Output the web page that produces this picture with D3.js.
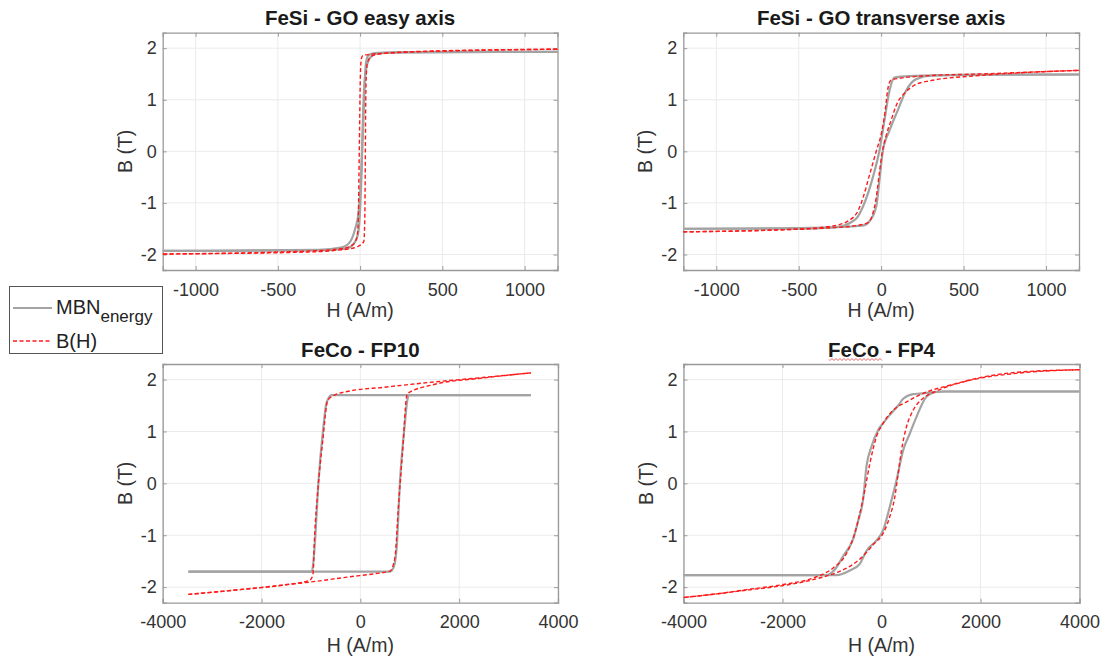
<!DOCTYPE html>
<html><head><meta charset="utf-8">
<script src="https://cdn.jsdelivr.net/npm/d3@7"></script>
<style>body{margin:0;background:#fff}svg{display:block;font-family:"Liberation Sans",Arial,sans-serif}</style>
</head><body>
<svg id="c" width="1104" height="661"></svg>
<script>
// ---------- data (H in A/m, B in T) ----------
const titles = ["FeSi - GO easy axis", "FeSi - GO transverse axis", "FeCo - FP10", "FeCo - FP4"];
const xTicksSmall = [-1000, -500, 0, 500, 1000];
const xTicksLarge = [-4000, -2000, 0, 2000, 4000];
const yTicks = [-2, -1, 0, 1, 2];
const legendLabels = ["MBN", "energy", "B(H)"];

// FeSi easy axis
const easyGrayDesc = [[1200,1.93],[400,1.925],[150,1.915],[80,1.9],[50,1.86],[35,1.7],[28,1.3],[20,0.6],[12,0],[4,-0.6],[-10,-1.2],[-30,-1.5],[-60,-1.75],[-110,-1.86],[-250,-1.91],[-1200,-1.93]];
const easyGrayAsc = [[-1200,-1.93],[-250,-1.92],[-80,-1.88],[-30,-1.75],[-10,-1.55],[2,-1.0],[10,-0.3],[16,0.5],[24,1.2],[40,1.65],[65,1.83],[105,1.9],[250,1.92],[1200,1.93]];
const easyRedDesc = [[1200,1.98],[600,1.95],[200,1.91],[60,1.88],[18,1.86],[8,1.8],[2,1.5],[-3,0.5],[-7,-0.5],[-11,-1.3],[-18,-1.65],[-40,-1.8],[-100,-1.88],[-300,-1.93],[-1200,-1.99]];
const easyRedAsc = [[-1200,-1.99],[-300,-1.95],[-120,-1.91],[-50,-1.88],[-10,-1.84],[22,-1.75],[28,-1.4],[31,-0.5],[33,0.5],[36,1.3],[43,1.7],[70,1.85],[150,1.9],[400,1.94],[1200,1.98]];

// FeSi transverse axis
const transGrayDesc = [[1200,1.49],[500,1.48],[250,1.47],[120,1.45],[80,1.43],[50,1.17],[20,0.6],[-10,0.02],[-50,-0.5],[-110,-1.07],[-140,-1.26],[-190,-1.39],[-270,-1.47],[-510,-1.5],[-1200,-1.5]];
const transGrayAsc = [[-1200,-1.5],[-500,-1.49],[-200,-1.46],[-100,-1.43],[-72,-1.36],[-30,-1.07],[-10,-0.55],[10,0],[50,0.4],[100,0.79],[150,1.17],[212,1.4],[313,1.47],[600,1.49],[1200,1.49]];
const transRedDesc = [[1200,1.57],[600,1.5],[250,1.46],[120,1.42],[60,1.38],[40,1.2],[25,0.8],[5,0.4],[-30,0],[-70,-0.45],[-110,-0.9],[-140,-1.15],[-190,-1.33],[-300,-1.45],[-600,-1.52],[-1200,-1.56]];
const transRedAsc = [[-1200,-1.56],[-600,-1.52],[-300,-1.48],[-150,-1.44],[-80,-1.38],[-50,-1.2],[-30,-0.9],[-10,-0.4],[5,-0.05],[30,0.3],[60,0.6],[100,0.95],[140,1.12],[200,1.28],[300,1.37],[600,1.47],[1200,1.57]];

// FeCo FP10
const fp10GrayDesc = [[3450,1.7],[-580,1.7],[-685,1.55],[-750,1.07],[-850,0],[-918,-1.12],[-960,-1.6],[-985,-1.7],[-3480,-1.7]];
const fp10GrayAsc = [[-3480,-1.7],[600,-1.7],[680,-1.6],[735,-1.24],[800,0],[900,1.15],[950,1.6],[980,1.7],[3450,1.7]];
const fp10RedDesc = [[3450,2.13],[2480,2.04],[2017,2.0],[1140,1.92],[464,1.85],[-210,1.78],[-520,1.7],[-660,1.6],[-760,0.83],[-860,-0.13],[-930,-1.1],[-960,-1.77],[-1030,-1.87],[-1560,-1.96],[-2570,-2.06],[-3480,-2.14]];
const fp10RedAsc = [[-3480,-2.14],[-2570,-2.06],[-1560,-1.96],[-1000,-1.9],[-210,-1.8],[300,-1.74],[600,-1.69],[700,-1.43],[770,-0.46],[870,0.83],[925,1.6],[950,1.73],[1470,1.9],[2480,2.03],[3450,2.13]];

// FeCo FP4
const fp4GrayDesc = [[4000,1.77],[1177,1.77],[975,1.75],[773,1.73],[640,1.72],[438,1.63],[337,1.5],[168,1.32],[34,1.16],[-67,1.03],[-202,0.71],[-303,0.33],[-370,-0.3],[-471,-0.72],[-572,-1.07],[-774,-1.4],[-942,-1.66],[-1111,-1.77],[-4000,-1.77]];
const fp4GrayAsc = [[-4000,-1.77],[-909,-1.77],[-640,-1.68],[-438,-1.55],[-303,-1.3],[-101,-1.1],[34,-0.9],[168,-0.45],[303,0.06],[438,0.64],[572,0.96],[707,1.28],[909,1.67],[1111,1.76],[1300,1.77],[4000,1.77]];
const fp4RedDesc = [[4000,2.19],[2727,2.14],[2054,2.05],[1380,1.89],[909,1.76],[505,1.57],[236,1.41],[34,1.16],[-101,0.9],[-236,0.38],[-337,-0.13],[-438,-0.58],[-539,-0.96],[-707,-1.35],[-976,-1.63],[-1313,-1.8],[-1986,-1.95],[-2660,-2.04],[-3333,-2.13],[-4000,-2.2]];
const fp4RedAsc = [[-4000,-2.2],[-3333,-2.13],[-2660,-2.05],[-1986,-1.97],[-1313,-1.84],[-909,-1.72],[-640,-1.6],[-370,-1.4],[-168,-1.18],[34,-0.96],[168,-0.64],[269,-0.26],[337,0.19],[404,0.64],[505,1.09],[640,1.41],[841,1.64],[1111,1.78],[1717,1.97],[2727,2.12],[4000,2.19]];

// ---------- drawing ----------
const svg = d3.select("#c");
const panels = [
  {title: titles[0], x0:162.7, x1:557.5, y0:32.7, y1:270, xd:[-1200,1200], xt:xTicksSmall, gray:[easyGrayDesc,easyGrayAsc], red:[easyRedDesc,easyRedAsc], xl:47},
  {title: titles[1], x0:683.3, x1:1079, y0:32.7, y1:270, xd:[-1200,1200], xt:xTicksSmall, gray:[transGrayDesc,transGrayAsc], red:[transRedDesc,transRedAsc], xl:47},
  {title: titles[2], x0:162.7, x1:558, y0:364, y1:602.7, xd:[-4000,4000], xt:xTicksLarge, gray:[fp10GrayDesc,fp10GrayAsc], red:[fp10RedDesc,fp10RedAsc], xl:49},
  {title: titles[3], x0:683.5, x1:1079.5, y0:364, y1:602.7, xd:[-4000,4000], xt:xTicksLarge, gray:[fp4GrayDesc,fp4GrayAsc], red:[fp4RedDesc,fp4RedAsc], xl:49}
];
const axisCol = "#9a9a9a", textCol = "#333", gridCol = "#ebebeb";

panels.forEach((p, i) => {
  const x = d3.scaleLinear().domain(p.xd).range([p.x0, p.x1]);
  const y = d3.scaleLinear().domain([-2.3, 2.3]).range([p.y1, p.y0]);
  const g = svg.append("g");
  // grid
  g.selectAll(".gx").data(p.xt).join("line")
    .attr("x1", d => x(d)).attr("x2", d => x(d)).attr("y1", p.y0).attr("y2", p.y1)
    .attr("stroke", gridCol).attr("stroke-width", 1);
  g.selectAll(".gy").data(yTicks).join("line")
    .attr("y1", d => y(d)).attr("y2", d => y(d)).attr("x1", p.x0).attr("x2", p.x1)
    .attr("stroke", gridCol).attr("stroke-width", 1);
  // axes
  const ax = g.append("g").attr("transform", `translate(0,${p.y1})`)
    .call(d3.axisBottom(x).tickValues(p.xt).tickSize(-4).tickPadding(13).tickFormat(d3.format("d")));
  const ay = g.append("g").attr("transform", `translate(${p.x0},0)`)
    .call(d3.axisLeft(y).tickValues(yTicks).tickSize(-4).tickPadding(6).tickFormat(d3.format("d")));
  const axT = g.append("g").attr("transform", `translate(0,${p.y0})`)
    .call(d3.axisTop(x).tickValues(p.xt).tickSize(-4).tickFormat(""));
  const ayR = g.append("g").attr("transform", `translate(${p.x1},0)`)
    .call(d3.axisRight(y).tickValues(yTicks).tickSize(-4).tickFormat(""));
  [ax, ay, axT, ayR].forEach(a => {
    a.select(".domain").attr("stroke", axisCol).attr("stroke-width", 1.3);
    a.selectAll(".tick line").attr("stroke", axisCol);
    a.selectAll("text").attr("fill", textCol).attr("font-size", "18px")
      .attr("font-family", "Liberation Sans, Arial, sans-serif");
  });
  ax.selectAll("text").text(d => d < 0 ? "-" + Math.abs(d) : d);
  ay.selectAll("text").text(d => d < 0 ? "-" + Math.abs(d) : d);

  const line = d3.line().x(d => x(d[0])).y(d => y(d[1])).curve(d3.curveMonotoneX);
  p.gray.forEach(br => g.append("path").attr("d", line(br)).attr("fill", "none")
    .attr("stroke", "#a3a3a3").attr("stroke-width", 2.2).attr("stroke-linejoin", "round"));
  p.red.forEach(br => g.append("path").attr("d", line(br)).attr("fill", "none")
    .attr("stroke", "#ff1a1a").attr("stroke-width", 1.4).attr("stroke-dasharray", "4,2.5"));

  const cx = (p.x0 + p.x1) / 2;
  // title
  const tt = g.append("text").attr("x", cx).attr("y", p.y0 - 7.5).attr("text-anchor", "middle")
    .attr("font-weight", "bold").attr("font-size", "20.5px").attr("fill", "#1a1a1a").text(p.title);
  // x label
  g.append("text").attr("x", cx).attr("y", p.y1 + p.xl).attr("text-anchor", "middle")
    .attr("font-size", "19.5px").attr("fill", textCol).text("H (A/m)");
  // y label
  g.append("text").attr("transform", `translate(${p.x0 - 31},${(p.y0 + p.y1) / 2}) rotate(-90)`)
    .attr("text-anchor", "middle").attr("font-size", "19.5px").attr("fill", textCol).text("B (T)");
  if (i === 3) {
    // spell-check style wavy underline under "FeCo"
    const bb = tt.node().getBBox();
    const wx0 = bb.x + 1, wx1 = bb.x + bb.width * 0.5, wy = p.y0 - 4.5;
    let d = `M${wx0},${wy}`;
    for (let k = wx0; k < wx1; k += 2) d += `L${k + 1},${wy + ((Math.round((k - wx0) / 2)) % 2 ? -1 : 1)}`;
    g.append("path").attr("d", d).attr("fill", "none").attr("stroke", "#e04040").attr("stroke-width", 0.8);
  }
});

// legend
const lg = svg.append("g");
lg.append("rect").attr("x", 9.5).attr("y", 286.5).attr("width", 153).attr("height", 67)
  .attr("fill", "#fff").attr("stroke", "#555").attr("stroke-width", 1);
lg.append("line").attr("x1", 13).attr("x2", 52).attr("y1", 308).attr("y2", 308)
  .attr("stroke", "#a3a3a3").attr("stroke-width", 2);
lg.append("line").attr("x1", 13).attr("x2", 51).attr("y1", 341).attr("y2", 341)
  .attr("stroke", "#ff1a1a").attr("stroke-width", 1.4).attr("stroke-dasharray", "4,2.5");
const t1 = lg.append("text").attr("x", 56).attr("y", 314).attr("font-size", "20px").attr("fill", "#222");
t1.append("tspan").text(legendLabels[0]);
t1.append("tspan").attr("font-size", "17px").attr("dy", 8).text(legendLabels[1]);
lg.append("text").attr("x", 56).attr("y", 348).attr("font-size", "20px").attr("fill", "#222").text(legendLabels[2]);
</script>
</body></html>
